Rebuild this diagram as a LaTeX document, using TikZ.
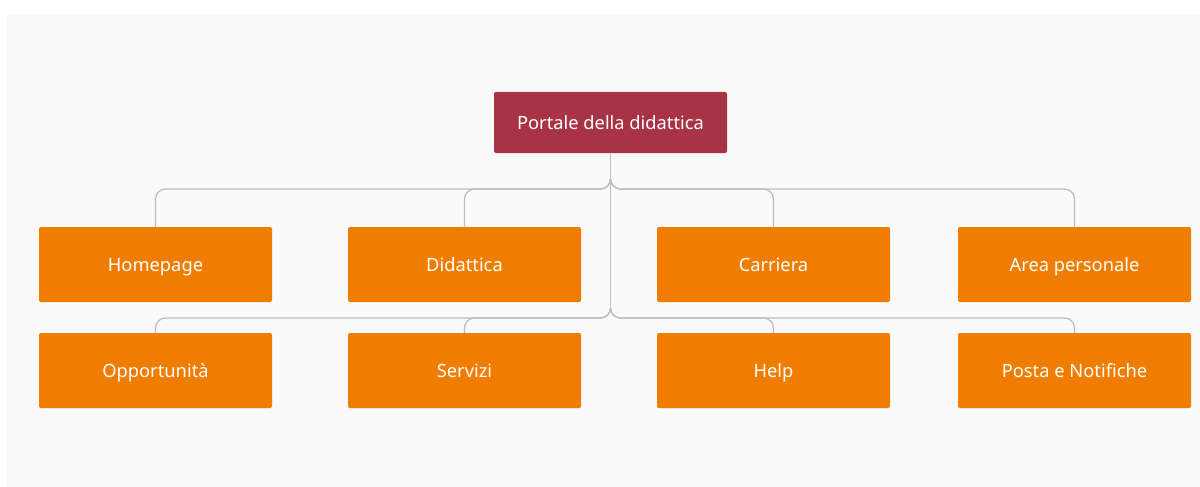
\documentclass[tikz,border=0pt]{standalone}
\usepackage{fontspec}
\setmainfont{Noto Sans}
\definecolor{bgc}{HTML}{FAFAFA}
\definecolor{rootc}{HTML}{A83246}
\definecolor{leafc}{HTML}{F07D00}
\definecolor{linec}{HTML}{BDBDBD}
\begin{document}
\begin{tikzpicture}[x=1pt,y=-1pt,
  box/.style={minimum width=233pt,minimum height=75pt,inner sep=0pt,text=white,
    rounded corners=2pt,font=\fontsize{18.3}{22}\selectfont,
    text height=13pt,text depth=0pt},
  rootbox/.style={box,fill=rootc,minimum width=233pt,minimum height=61pt},
  leaf/.style={box,fill=leafc},
  conn/.style={draw=linec,line width=1.3pt,rounded corners=10pt}]
\useasboundingbox (0,0) rectangle (1200,487);
\fill[bgc] (7,15) rectangle (1200,487);
\node[rootbox] (root) at (610.5,122.5) {Portale della didattica};
\node[leaf] (home) at (155.5,264.5) {Homepage};
\node[leaf] (did) at (464.5,264.5) {Didattica};
\node[leaf] (car) at (773.5,264.5) {Carriera};
\node[leaf] (area) at (1074.5,264.5) {Area personale};
\node[leaf] (opp) at (155.5,370.5) {Opportunità};
\node[leaf] (serv) at (464.5,370.5) {Servizi};
\node[leaf] (help) at (773.5,370.5) {Help};
\node[leaf] (posta) at (1074.5,370.5) {Posta e Notifiche};
\coordinate (j1) at (610.5,179);
\coordinate (j2) at (610.5,308);
\draw[conn] (root.south) -- (j2);
\foreach \n in {home,did,car,area}{\draw[conn] (j1) -- ++(0,10) -| (\n.north);}
\foreach \n in {opp,serv,help,posta}{\draw[conn] (j2) -- ++(0,10) -| (\n.north);}
\end{tikzpicture}
\end{document}
